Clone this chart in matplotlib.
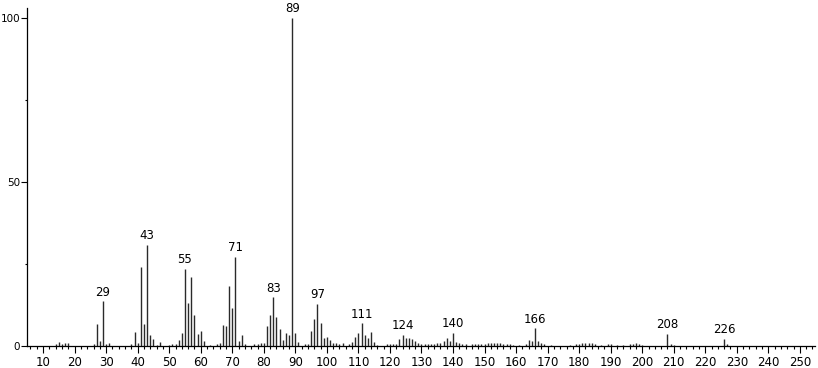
import matplotlib
matplotlib.use("Agg")
import matplotlib.pyplot as plt
from matplotlib.ticker import MultipleLocator

# m/z and relative intensity (%)
mz = [14, 15, 16, 17, 18, 26, 27, 28, 29, 30, 31,
      38, 39, 40, 41, 42, 43, 44, 45, 46, 47, 50, 51, 52, 53, 54,
      55, 56, 57, 58, 59, 60, 61, 63, 65, 66, 67, 68, 69, 70, 71,
      72, 73, 74, 77, 78, 79, 80, 81, 82, 83, 84, 85, 86, 87, 88,
      89, 90, 91, 93, 94, 95, 96, 97, 98, 99, 100, 101, 102, 103,
      104, 105, 107, 108, 109, 110, 111, 112, 113, 114, 115, 116,
      119, 120, 121, 122, 123, 124, 125, 126, 127, 128, 129, 130,
      131, 132, 133, 134, 135, 136, 137, 138, 139, 140, 141, 142,
      143, 144, 146, 147, 148, 149, 150, 151, 152, 153, 154, 155,
      156, 157, 158, 159, 161, 163, 164, 165, 166, 167, 168, 169,
      171, 177, 179, 180, 181, 182, 183, 184, 185, 187, 189, 190,
      192, 194, 196, 197, 198, 199, 200, 208, 209, 210, 226, 227]
intensity = [0.6, 1.2, 0.7, 0.8, 1.0, 0.6, 6.7, 1.6, 13.6, 0.5, 1.0,
             0.5, 4.3, 1.0, 24.2, 6.7, 30.8, 3.4, 2.1, 0.4, 1.2, 0.4, 0.6, 0.6, 1.8, 3.9,
             23.6, 13.0, 21.0, 9.4, 3.7, 4.5, 1.6, 0.3, 0.6, 1.0, 6.3, 6.1, 18.4, 11.5, 27.2,
             1.5, 3.4, 0.5, 0.6, 0.7, 1.0, 1.0, 6.1, 9.4, 14.8, 8.7, 5.3, 1.8, 3.9, 3.5,
             100.0, 3.9, 1.2, 0.7, 0.7, 4.6, 8.1, 12.8, 6.9, 2.4, 2.6, 1.8, 0.8, 0.8,
             0.6, 0.8, 0.6, 1.2, 2.8, 3.9, 6.9, 3.2, 2.4, 4.3, 1.2, 0.4,
             0.5, 0.6, 0.5, 0.6, 2.2, 3.4, 2.3, 2.5, 2.0, 1.4, 0.8, 0.5,
             0.5, 0.6, 0.6, 0.6, 0.8, 1.0, 1.6, 2.3, 1.6, 3.9, 1.2, 1.0,
             0.6, 0.5, 0.5, 0.6, 0.5, 0.6, 0.6, 1.0, 1.0, 0.8, 1.0, 0.8,
             0.6, 0.6, 0.5, 0.4, 0.4, 0.6, 1.8, 1.4, 5.4, 1.4, 0.8, 0.5,
             0.4, 0.4, 0.5, 0.5, 0.8, 1.0, 0.8, 1.0, 0.6, 0.4, 0.5, 0.5,
             0.4, 0.4, 0.5, 0.6, 0.8, 0.6, 0.4, 3.7, 0.6, 0.4, 2.2, 0.5]

labelled = [29, 43, 55, 71, 83, 89, 97, 111, 124, 140, 166, 208, 226]

fig = plt.figure(figsize=(8.18, 3.68), dpi=100)
ax = fig.add_axes([27 / 818, 22 / 368, 788 / 818, 338 / 368])

ax.vlines(mz, 0, intensity, colors="#2a2a2a", linewidth=1.0)

lookup = dict(zip(mz, intensity))
for m in labelled:
    ax.annotate(str(m), (m, lookup[m]), xytext=(0, 2), textcoords="offset points",
                ha="center", va="bottom", fontsize=8.5)

ax.set_xlim(4.9, 254.8)
ax.set_ylim(0, 103)

for s in ["top", "right"]:
    ax.spines[s].set_visible(False)
ax.spines["left"].set_linewidth(0.9)
ax.spines["bottom"].set_linewidth(0.9)

ax.xaxis.set_major_locator(MultipleLocator(10))
ax.xaxis.set_minor_locator(MultipleLocator(2))
ax.yaxis.set_major_locator(MultipleLocator(50))
ax.yaxis.set_minor_locator(MultipleLocator(25))
ax.set_xticks(range(10, 251, 10))
ax.tick_params(axis="x", which="major", direction="out", length=5, width=0.8,
               labelsize=8.5, pad=2)
ax.tick_params(axis="x", which="minor", direction="out", length=2.5, width=0.8)
ax.tick_params(axis="y", which="major", direction="out", length=4, width=0.8,
               labelsize=7.5, pad=1)
ax.tick_params(axis="y", which="minor", direction="out", length=1.2, width=0.8)

fig.savefig("out.png", dpi=100)
